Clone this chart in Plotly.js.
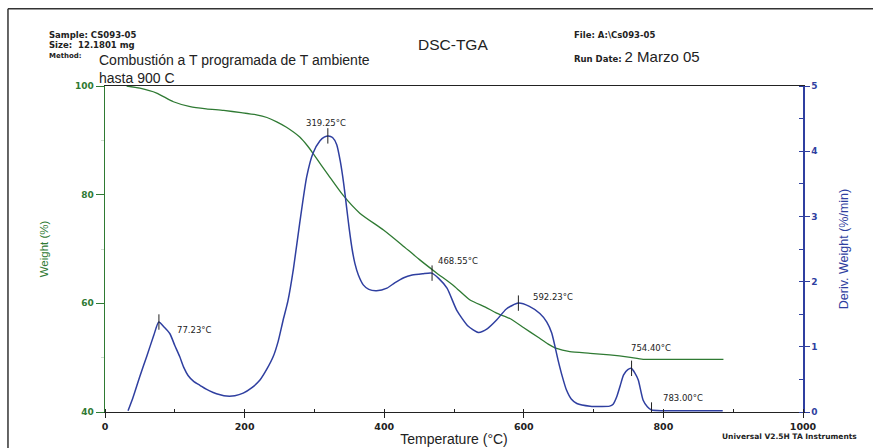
<!DOCTYPE html>
<html>
<head>
<meta charset="utf-8">
<script src="https://cdn.plot.ly/plotly-3.0.1.min.js"></script>
<style>html,body{margin:0;padding:0;background:#fff;}#chart{width:873px;height:448px;}</style>
</head>
<body>
<div id="chart"></div>
<script>
// ---- Data ----
var tgaTemp = [31, 50, 74, 98, 122, 145, 170, 195, 217, 232, 246, 260, 279, 290, 298, 310, 320, 341, 365, 399, 425, 451, 475, 500, 523, 545, 561, 580, 600, 620, 635, 647, 666, 695, 723, 750, 771, 800, 886];
var tgaWeight = [100, 99.6, 98.7, 97.1, 96.2, 95.8, 95.5, 95.1, 94.7, 94.2, 93.4, 92.4, 90.6, 89.0, 87.6, 85.4, 83.6, 79.9, 76.6, 73.5, 70.8, 68.0, 65.6, 63.2, 60.6, 59.3, 58.2, 57.2, 55.5, 53.8, 52.5, 51.7, 51.1, 50.8, 50.5, 50.1, 49.7, 49.7, 49.7];

var dtgTemp = [33, 40, 50, 60, 70, 77, 85, 93, 100, 107, 113, 119, 127, 136, 145, 155, 165, 174, 186, 198, 210, 222, 232, 241, 248, 255, 262, 270, 279, 289, 298, 308, 314, 320, 326, 332, 337, 342, 346, 350, 354, 358, 363, 370, 378, 389, 404, 415, 428, 440, 455, 468, 478, 490, 504, 520, 535, 548, 561, 575, 592, 608, 623, 633, 640, 649, 655, 661, 668, 676, 695, 723, 728, 733, 738, 743, 749, 754, 759, 764, 771, 777, 783, 800, 830, 860, 885];
var dtgDeriv = [0.02, 0.22, 0.55, 0.86, 1.18, 1.38, 1.3, 1.2, 1.02, 0.85, 0.68, 0.56, 0.47, 0.41, 0.35, 0.30, 0.265, 0.245, 0.25, 0.29, 0.37, 0.49, 0.66, 0.85, 1.08, 1.4, 1.7, 2.2, 2.9, 3.61, 3.97, 4.16, 4.215, 4.235, 4.21, 4.1, 3.85, 3.5, 3.15, 2.8, 2.5, 2.28, 2.1, 1.95, 1.88, 1.86, 1.9, 1.98, 2.06, 2.1, 2.12, 2.13, 2.05, 1.9, 1.56, 1.32, 1.22, 1.28, 1.41, 1.58, 1.67, 1.62, 1.51, 1.38, 1.21, 0.80, 0.55, 0.34, 0.2, 0.13, 0.09, 0.09, 0.12, 0.23, 0.40, 0.57, 0.65, 0.67, 0.6, 0.49, 0.18, 0.08, 0.03, 0.02, 0.02, 0.02, 0.02];

var peakTemp = [77.23, 319.25, 468.55, 592.23, 754.40, 783.00];
var peakDeriv = [1.38, 4.235, 2.13, 1.67, 0.67, 0.03];
var peakLabels = ["77.23°C", "319.25°C", "468.55°C", "592.23°C", "754.40°C", "783.00°C"];

var xTickVals = [0, 200, 400, 600, 800, 1000];
var yTickVals = [40, 60, 80, 100];
var y2TickVals = [0, 1, 2, 3, 4, 5];

// ---- Styles ----
var GREEN = "#2f7a33";
var BLUE = "#2f3fa0";
var FONT = "Arial, Liberation Sans";
var BITMAP = "DejaVu Sans";
var labelStyle = [
  {xanchor: "left", xshift: 16, yshift: -8},
  {xanchor: "center", xshift: -2, yshift: 13},
  {xanchor: "left", xshift: 4, yshift: 12},
  {xanchor: "left", xshift: 13, yshift: 6},
  {xanchor: "left", xshift: -3, yshift: 20},
  {xanchor: "left", xshift: 9, yshift: 12}
];

var traces = [
  {x: tgaTemp, y: tgaWeight, type: "scatter", mode: "lines", yaxis: "y",
   line: {color: GREEN, width: 1.3, shape: "spline", smoothing: 0.6}, hoverinfo: "skip"},
  {x: dtgTemp, y: dtgDeriv, type: "scatter", mode: "lines", yaxis: "y2",
   line: {color: BLUE, width: 1.5, shape: "spline", smoothing: 0.6}, hoverinfo: "skip"},
  {x: peakTemp, y: peakDeriv, type: "scatter", mode: "markers", yaxis: "y2",
   marker: {symbol: "line-ns-open", size: 11, color: "#222", line: {color: "#222", width: 1}}, hoverinfo: "skip"}
];

var annotations = peakTemp.map(function (t, i) {
  return {x: t, y: peakDeriv[i], xref: "x", yref: "y2", text: peakLabels[i], showarrow: false,
    xanchor: labelStyle[i].xanchor, yanchor: "middle", xshift: labelStyle[i].xshift, yshift: labelStyle[i].yshift,
    font: {family: BITMAP, size: 8.5, color: "#222"}};
});

var smallBold = {family: BITMAP, size: 8.5, color: "#222", weight: "bold"};
annotations = annotations.concat([
  {xref: "paper", yref: "paper", x: -0.083, y: 1.157, xanchor: "left", yanchor: "middle", showarrow: false, text: "Sample: CS093-05", font: smallBold},
  {xref: "paper", yref: "paper", x: -0.083, y: 1.126, xanchor: "left", yanchor: "middle", showarrow: false, text: "Size:  12.1801 mg", font: smallBold},
  {xref: "paper", yref: "paper", x: -0.083, y: 1.092, xanchor: "left", yanchor: "middle", showarrow: false, text: "Method:", font: {family: BITMAP, size: 7, color: "#222", weight: "bold"}},
  {xref: "paper", yref: "paper", x: -0.011, y: 1.052, xanchor: "left", yanchor: "middle", align: "left", showarrow: false,
   text: "Combustión a T programada de T ambiente<br>hasta 900 C", font: {family: FONT, size: 14, color: "#222"}},
  {xref: "paper", yref: "paper", x: 0.4986, y: 1.126, xanchor: "center", yanchor: "middle", showarrow: false, text: "DSC-TGA", font: {family: FONT, size: 15.5, color: "#222"}},
  {xref: "paper", yref: "paper", x: 0.669, y: 1.157, xanchor: "left", yanchor: "middle", showarrow: false, text: "File: A:\\Cs093-05", font: smallBold},
  {xref: "paper", yref: "paper", x: 0.669, y: 1.092, xanchor: "left", yanchor: "middle", showarrow: false,
   text: "Run Date: <span style=\"font-family:Arial;font-size:15px;font-weight:normal\">2 Marzo 05</span>", font: smallBold},
  {xref: "paper", yref: "paper", x: 0.881, y: -0.074, xanchor: "left", yanchor: "middle", showarrow: false, text: "Universal V2.5H TA Instruments", font: {family: BITMAP, size: 7.5, color: "#222", weight: "bold"}}
]);

var layout = {
  width: 873, height: 448,
  margin: {l: 105, r: 70, t: 86, b: 36, pad: 0},
  paper_bgcolor: "#fff", plot_bgcolor: "#fff",
  showlegend: false,
  xaxis: {range: [0, 1000], tickvals: xTickVals, showline: true, linecolor: "#222", linewidth: 1.3, mirror: true,
    ticks: "outside", ticklen: 5, tickcolor: "#222", showgrid: false, zeroline: false,
    minor: {dtick: 100, ticks: "inside", ticklen: 3, tickcolor: "#222"},
    tickfont: {family: BITMAP, size: 9.5, color: "#222", weight: "bold"},
    title: {text: "Temperature (°C)", standoff: 3, font: {family: FONT, size: 14, color: "#222"}}},
  yaxis: {range: [40, 100], tickvals: yTickVals, showline: true, linecolor: GREEN, linewidth: 1.5,
    ticks: "outside", ticklen: 8, tickcolor: GREEN, showgrid: false, zeroline: false,
    minor: {dtick: 10, ticks: "outside", ticklen: 3, tickcolor: "#cfdccf"},
    tickfont: {family: BITMAP, size: 9, color: GREEN, weight: "bold"},
    title: {text: "Weight (%)", standoff: 24, font: {family: FONT, size: 11.5, color: GREEN}}},
  yaxis2: {range: [0, 5], tickvals: y2TickVals, overlaying: "y", side: "right", showline: true, linecolor: BLUE, linewidth: 1.5,
    ticks: "outside", ticklen: 5, tickcolor: BLUE, showgrid: false, zeroline: false,
    minor: {dtick: 0.5, ticks: "inside", ticklen: 4, tickcolor: BLUE},
    tickfont: {family: BITMAP, size: 9, color: BLUE, weight: "bold"},
    title: {text: "Deriv. Weight (%/min)", standoff: 22, font: {family: FONT, size: 12.5, color: BLUE}}},
  annotations: annotations,
  shapes: [
    {type: "line", xref: "paper", yref: "paper", x0: -0.139, x1: -0.139, y0: -0.2, y1: 1.237, line: {color: "#333", width: 1.5}},
    {type: "line", xref: "paper", yref: "paper", x0: -0.139, x1: 1.2, y0: 1.237, y1: 1.237, line: {color: "#333", width: 1.5}}
  ]
};

Plotly.newPlot("chart", traces, layout, {staticPlot: true, displayModeBar: false});
</script>
</body>
</html>
